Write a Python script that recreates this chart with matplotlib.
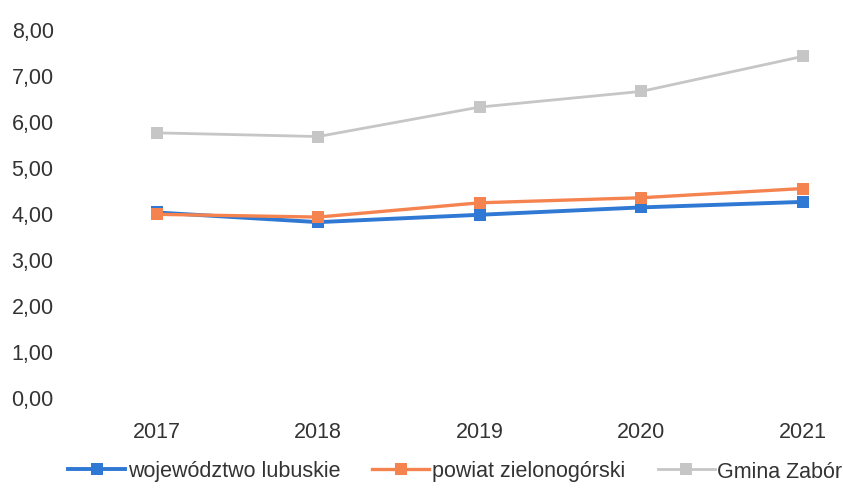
import matplotlib.pyplot as plt
from matplotlib.ticker import FuncFormatter

plt.rcParams['font.family'] = ['Liberation Sans', 'DejaVu Sans']

years = ['2017', '2018', '2019', '2020', '2021']
lubuskie = [4.01, 3.80, 3.96, 4.12, 4.24]
zielonogorski = [3.97, 3.91, 4.22, 4.33, 4.53]
zabor = [5.74, 5.66, 6.30, 6.64, 7.40]

series = [
    ('województwo lubuskie', lubuskie, '#2f78d4', 2.8),
    ('powiat zielonogórski', zielonogorski, '#f5834f', 2.4),
    ('Gmina Zabór', zabor, '#c6c6c6', 2.0),
]

fig = plt.figure(figsize=(8.43, 4.89), dpi=100)
ax = fig.add_axes([0.09, 0.186, 0.91, 0.753])

x = range(len(years))
for name, vals, color, lw in series:
    ax.plot(x, vals, color=color, lw=lw, marker='s', markersize=9,
            markeredgewidth=0, label=name)

ax.set_ylim(0, 8)
ax.set_xlim(-0.5, 4.25)
ax.set_yticks(range(0, 9))
ax.yaxis.set_major_formatter(FuncFormatter(lambda v, p: f'{v:.2f}'.replace('.', ',')))
ax.set_xticks(list(x))
ax.set_xticklabels(years)
ax.tick_params(length=0, labelsize=15.5, colors='#333333')
ax.tick_params(axis='y', pad=16)
ax.tick_params(axis='x', pad=17)
for s in ax.spines.values():
    s.set_visible(False)

fig.legend(loc='center left', bbox_to_anchor=(68 / 843, 1 - 472 / 489), ncol=3,
           frameon=False, borderpad=0, borderaxespad=0,
           fontsize=15.5, handlelength=2.65, handletextpad=0.12, columnspacing=1.5,
           labelcolor='#333333')

plt.savefig('out.png', dpi=100)
print('saved to out.png')
